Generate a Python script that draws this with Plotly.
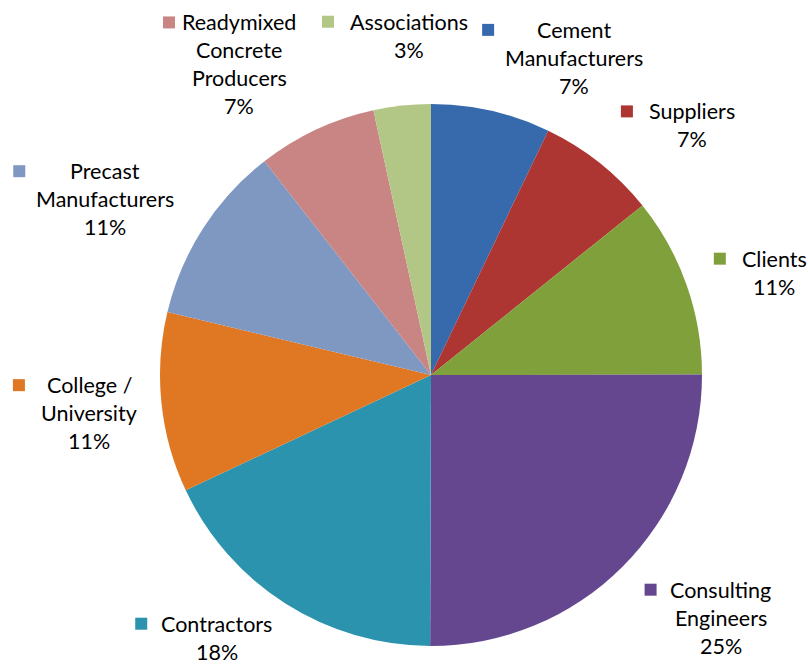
import math
import plotly.graph_objects as go

# ---- data ----
categories = ["Cement Manufacturers", "Suppliers", "Clients", "Consulting Engineers",
              "Contractors", "College / University", "Precast Manufacturers",
              "Readymixed Concrete Producers", "Associations"]
label_lines = [["Cement", "Manufacturers"], ["Suppliers"], ["Clients"],
               ["Consulting", "Engineers"], ["Contractors"], ["College /", "University"],
               ["Precast", "Manufacturers"], ["Readymixed", "Concrete", "Producers"],
               ["Associations"]]
shares = [7.1, 7.1, 10.7, 25.0, 17.9, 10.7, 10.7, 7.1, 3.4]

# ---- style ----
colors = ["#376AAD", "#AD3532", "#7FA03B", "#654790", "#2C93AF", "#E07722",
          "#7F98C2", "#C98584", "#B2C786"]
label_angle_offset = [11.5, 7.8, 2.8, -5.1, 6.7, -0.5, -4.4, -6.6, 2.4]
label_radius = [348, 361, 358, 378, 339, 344, 370, 365, 340]

W, H = 808, 666
cx, cy, R = 431, 375, 271
FS = 21.5
LINE = 28
FONT = "Lato"
CHAR_W = 0.495

fig = go.Figure(go.Pie(
    labels=categories, values=shares, sort=False, direction="clockwise",
    rotation=0, marker=dict(colors=colors, line=dict(width=0)),
    textinfo="none", showlegend=False, hoverinfo="label+percent",
    domain=dict(x=[(cx - R) / W, (cx + R) / W], y=[(H - cy - R) / H, (H - cy + R) / H]),
))

total = sum(shares)
cum = 0.0
annotations = []
shapes = []
for i, v in enumerate(shares):
    mid = (cum + v / 2) / total * 360.0
    cum += v
    pct = f"{round(v / total * 100)}%"
    lines = label_lines[i] + [pct]
    ang = math.radians(mid + label_angle_offset[i])
    bx = cx + label_radius[i] * math.sin(ang)
    by = cy - label_radius[i] * math.cos(ang)
    n = len(lines)
    for k, t in enumerate(lines):
        ly = by + (k - (n - 1) / 2) * LINE
        annotations.append(dict(x=bx / W, y=1 - ly / H, xref="paper", yref="paper",
                                text=t, showarrow=False, xanchor="center", yanchor="middle",
                                borderpad=0,
                                font=dict(family=FONT, size=FS, color="#000000")))
    maxw = max(len(t) for t in lines) * CHAR_W * FS
    sx1 = bx - maxw / 2 - 11
    sx0 = sx1 - 12
    sy = by - (n - 1) / 2 * LINE
    shapes.append(dict(type="rect", xref="paper", yref="paper",
                       x0=sx0 / W, x1=sx1 / W, y0=1 - (sy + 6) / H, y1=1 - (sy - 6) / H,
                       fillcolor=colors[i], line=dict(width=0)))

fig.update_layout(width=W, height=H, margin=dict(l=0, r=0, t=0, b=0),
                  paper_bgcolor="white", plot_bgcolor="white",
                  annotations=annotations, shapes=shapes)
fig.write_html("out.html", config={"displayModeBar": False},
               post_script="document.body.style.margin='0';document.body.style.padding='0';")
